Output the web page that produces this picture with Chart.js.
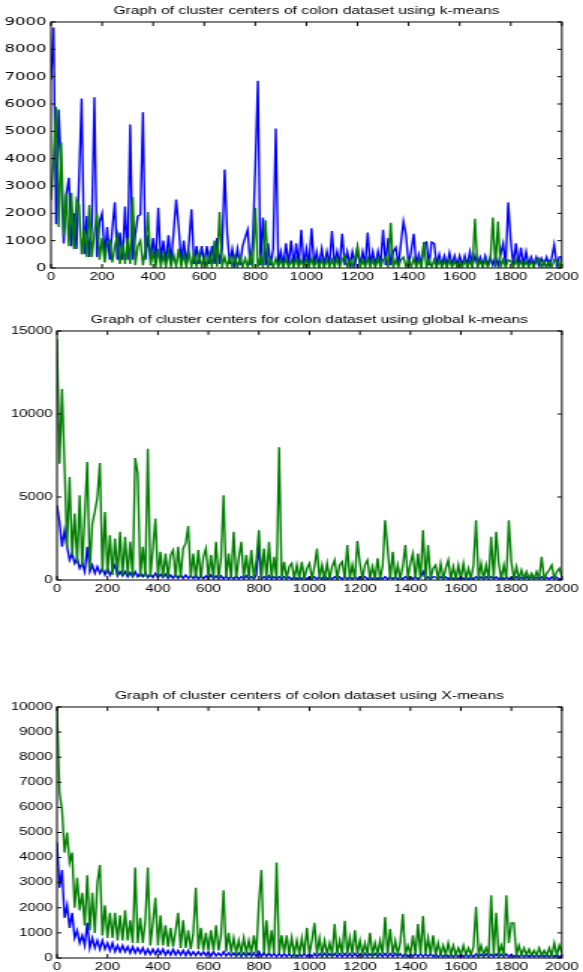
<!DOCTYPE html>
<html>
<head>
<meta charset="utf-8">
<script src="https://cdn.jsdelivr.net/npm/chart.js@4"></script>
<style>
    body { margin: 0; background: #fff; width: 583px; height: 972px; overflow: hidden; position: relative; }
    /* the source figure is stretched sideways, so each panel is drawn narrow and scaled in x */
    .panel { position: absolute; left: 0; width: 389px; transform: scaleX(1.4987); transform-origin: 0 0; }
</style>
</head>
<body>
<div class="panel" style="top:0px;height:290px"><canvas id="kmChart"></canvas></div>
<div class="panel" style="top:309px;height:293px"><canvas id="gkmChart"></canvas></div>
<div class="panel" style="top:685px;height:290px"><canvas id="xmChart"></canvas></div>

<script>
// sample index, one value read every 10 samples
var sampleIdx = Array.from({ length: 201 }, function (_, i) { return i * 10; });

// k-means
var kmBlue = [
    6900, 8800, 1600, 5800, 3600, 900, 2700, 3300, 800, 2000,
    700, 3300, 6200, 500, 1900, 400, 1600, 6250, 400, 1700,
    2000, 400, 1500, 300, 1400, 2400, 300, 1300, 300, 2250,
    300, 5250, 300, 1200, 1900, 1950, 5700, 300, 1200, 300,
    1100, 250, 2200, 250, 1000, 200, 1200, 200, 1300, 2500,
    1500, 200, 1000, 150, 900, 2150, 150, 800, 150, 800,
    150, 800, 150, 800, 150, 1100, 150, 700, 3600, 1250,
    150, 700, 100, 700, 100, 800, 1100, 1400, 100, 1000,
    3700, 6850, 100, 1850, 100, 900, 100, 700, 5100, 100,
    600, 100, 900, 100, 1000, 100, 900, 100, 1400, 100,
    700, 100, 1450, 100, 600, 100, 700, 100, 600, 100,
    1350, 100, 600, 100, 1250, 100, 600, 100, 600, 100,
    700, 100, 600, 100, 1300, 100, 600, 100, 600, 100,
    1400, 100, 1100, 100, 600, 750, 100, 900, 1700, 1200,
    100, 600, 1250, 100, 500, 100, 900, 950, 100, 950,
    900, 100, 500, 100, 450, 100, 550, 100, 450, 100,
    450, 100, 450, 100, 600, 100, 450, 100, 400, 100,
    450, 100, 400, 100, 400, 100, 500, 900, 100, 2400,
    1000, 100, 900, 100, 750, 100, 600, 100, 400, 100,
    400, 100, 350, 100, 400, 100, 350, 850, 100, 400,
    400
];
var kmGreen = [
    2500, 4000, 5900, 1500, 4600, 1200, 2700, 800, 2750, 700,
    2500, 2300, 500, 1400, 400, 2300, 400, 1300, 2000, 300,
    1100, 200, 900, 1000, 200, 800, 1200, 150, 900, 150,
    1100, 150, 2600, 100, 800, 1000, 100, 700, 2050, 100,
    600, 50, 700, 50, 500, 50, 600, 50, 500, 50,
    700, 50, 500, 50, 600, 50, 500, 50, 500, 50,
    400, 50, 500, 50, 1000, 50, 2050, 50, 400, 50,
    400, 30, 400, 30, 400, 30, 350, 30, 500, 30,
    2200, 30, 400, 30, 1750, 30, 300, 30, 350, 30,
    300, 30, 350, 30, 300, 30, 350, 30, 300, 30,
    300, 30, 350, 30, 300, 30, 300, 30, 350, 30,
    300, 30, 350, 30, 300, 450, 30, 300, 30, 350,
    800, 30, 300, 30, 350, 30, 300, 30, 350, 30,
    300, 400, 30, 1650, 30, 300, 30, 300, 400, 30,
    300, 30, 350, 30, 300, 30, 950, 30, 300, 30,
    300, 30, 300, 30, 250, 30, 300, 30, 250, 30,
    250, 30, 300, 30, 250, 30, 1800, 30, 250, 30,
    300, 30, 250, 1850, 30, 1700, 30, 300, 30, 300,
    250, 30, 300, 30, 250, 30, 250, 30, 250, 30,
    250, 350, 30, 250, 30, 250, 30, 300, 250, 30,
    400
];

// global k-means
var gkmBlue = [
    4500, 3500, 2000, 3000, 2000, 1200, 1600, 1000, 1300, 700,
    1000, 500, 2000, 500, 900, 400, 800, 400, 700, 300,
    700, 300, 600, 900, 250, 500, 250, 500, 200, 450,
    200, 500, 200, 400, 200, 450, 150, 350, 150, 400,
    150, 350, 150, 350, 100, 300, 100, 350, 100, 300,
    100, 300, 100, 250, 100, 300, 80, 250, 80, 250,
    80, 300, 80, 250, 60, 250, 60, 250, 60, 200,
    60, 250, 60, 200, 60, 250, 60, 200, 60, 300,
    2200, 60, 200, 50, 250, 50, 200, 50, 200, 50,
    200, 50, 180, 50, 200, 50, 180, 50, 200, 50,
    180, 50, 200, 50, 180, 50, 300, 50, 180, 50,
    200, 50, 180, 50, 200, 50, 180, 50, 200, 50,
    180, 50, 200, 50, 180, 50, 200, 50, 180, 50,
    200, 50, 180, 50, 200, 50, 180, 50, 200, 50,
    180, 50, 200, 50, 180, 500, 50, 180, 50, 200,
    180, 50, 200, 50, 180, 50, 200, 50, 180, 50,
    180, 50, 200, 50, 180, 50, 200, 50, 180, 50,
    180, 50, 200, 50, 180, 50, 200, 50, 180, 50,
    160, 50, 180, 50, 160, 50, 180, 50, 160, 50,
    160, 50, 180, 50, 160, 50, 180, 50, 160, 50,
    100
];
var gkmGreen = [
    14500, 7000, 11500, 6900, 2000, 6200, 1500, 4000, 1000, 5100,
    800, 3900, 7100, 600, 3400, 4100, 5000, 7050, 500, 4100,
    400, 2700, 300, 2500, 300, 2900, 300, 2600, 300, 2300,
    200, 7350, 6400, 200, 2000, 200, 7900, 200, 1900, 3700,
    200, 1700, 200, 1600, 150, 1500, 1800, 150, 2000, 150,
    1900, 2200, 3250, 150, 1600, 100, 1800, 100, 1400, 1900,
    100, 1500, 100, 2300, 100, 1300, 5100, 100, 1600, 100,
    2900, 100, 1300, 2300, 100, 1500, 100, 1800, 100, 1200,
    3000, 100, 1900, 100, 2300, 100, 1400, 100, 8000, 100,
    1100, 80, 800, 1000, 80, 900, 80, 1100, 80, 700,
    1000, 80, 800, 1900, 80, 900, 80, 1000, 80, 800,
    1200, 80, 900, 1100, 80, 2100, 80, 900, 80, 2350,
    1000, 80, 900, 1200, 80, 800, 80, 1300, 80, 800,
    3600, 1900, 80, 1700, 80, 900, 80, 800, 2100, 80,
    1000, 1600, 80, 1600, 80, 3000, 80, 2100, 80, 700,
    900, 60, 1000, 60, 700, 1200, 60, 800, 60, 900,
    60, 1000, 60, 700, 60, 900, 3600, 60, 1000, 60,
    900, 60, 2600, 60, 2900, 1000, 60, 900, 60, 3600,
    1100, 60, 800, 60, 600, 60, 500, 60, 400, 60,
    500, 60, 1400, 60, 400, 600, 900, 60, 500, 700,
    200
];

// X-means
var xmBlue = [
    4600, 2800, 3500, 1600, 2100, 1200, 1800, 800, 1100, 600,
    900, 500, 1400, 400, 800, 400, 700, 350, 700, 350,
    600, 300, 600, 250, 500, 250, 500, 250, 450, 200,
    450, 200, 400, 200, 400, 150, 350, 150, 350, 150,
    350, 150, 350, 120, 300, 120, 350, 120, 300, 120,
    300, 100, 300, 100, 250, 100, 250, 100, 250, 100,
    250, 80, 250, 80, 200, 80, 250, 80, 200, 80,
    200, 60, 200, 60, 200, 60, 200, 60, 200, 60,
    250, 60, 200, 60, 200, 60, 180, 50, 180, 50,
    180, 50, 170, 50, 180, 50, 170, 50, 180, 50,
    170, 50, 180, 50, 170, 50, 180, 50, 170, 50,
    180, 50, 170, 50, 180, 50, 170, 50, 180, 50,
    170, 50, 180, 50, 170, 50, 180, 50, 170, 50,
    180, 50, 170, 50, 180, 50, 170, 50, 180, 50,
    170, 50, 180, 50, 170, 50, 160, 50, 170, 50,
    160, 40, 150, 40, 160, 40, 150, 40, 160, 40,
    150, 40, 160, 40, 150, 40, 160, 40, 150, 40,
    160, 40, 150, 40, 160, 40, 150, 40, 160, 40,
    150, 40, 140, 40, 150, 40, 140, 40, 150, 40,
    140, 40, 150, 40, 140, 40, 150, 40, 140, 40,
    100
];
var xmGreen = [
    10000, 6600, 5900, 4200, 5000, 3800, 4200, 2000, 3200, 1900,
    2600, 1300, 3300, 1100, 2600, 1000, 3000, 3700, 900, 2100,
    800, 1800, 800, 1800, 700, 1700, 700, 1900, 700, 1500,
    600, 3600, 600, 1600, 600, 1500, 3600, 500, 1400, 2400,
    500, 1700, 500, 1300, 450, 1200, 450, 1100, 1800, 400,
    1500, 400, 1100, 350, 1000, 2800, 350, 1200, 300, 1000,
    300, 1100, 300, 1300, 300, 900, 2700, 250, 1000, 250,
    800, 200, 700, 200, 800, 200, 700, 200, 900, 200,
    2200, 3500, 200, 1500, 200, 1100, 200, 3800, 200, 900,
    200, 900, 150, 800, 150, 700, 150, 800, 150, 1200,
    150, 700, 1400, 150, 800, 150, 700, 150, 600, 150,
    1350, 150, 700, 150, 1480, 150, 800, 150, 1100, 150,
    700, 150, 600, 150, 1000, 150, 600, 150, 700, 150,
    1630, 150, 1150, 150, 700, 150, 600, 1750, 150, 500,
    150, 900, 150, 1350, 150, 1670, 150, 800, 150, 900,
    120, 600, 120, 500, 120, 600, 120, 500, 120, 400,
    120, 500, 120, 400, 120, 450, 2040, 120, 500, 120,
    400, 120, 2500, 120, 1800, 120, 500, 120, 2500, 600,
    1400, 1400, 120, 500, 120, 400, 120, 350, 100, 300,
    100, 400, 100, 300, 100, 400, 100, 600, 100, 500,
    200
];

var sans = 'Liberation Sans, Arial, sans-serif';

// MATLAB style box with inward ticks on all four sides
var boxPlugin = {
    id: 'matlabBox',
    afterDraw: function (chart) {
        var ctx = chart.ctx, a = chart.chartArea;
        var xs = chart.scales.x, ys = chart.scales.y;
        ctx.save();
        ctx.strokeStyle = '#000';
        ctx.lineWidth = 1;
        ctx.strokeRect(a.left, a.top, a.right - a.left, a.bottom - a.top);
        ctx.beginPath();
        xs.ticks.forEach(function (t) {
            var px = xs.getPixelForValue(t.value);
            ctx.moveTo(px, a.bottom); ctx.lineTo(px, a.bottom - 4);
            ctx.moveTo(px, a.top); ctx.lineTo(px, a.top + 4);
        });
        ys.ticks.forEach(function (t) {
            var py = ys.getPixelForValue(t.value);
            ctx.moveTo(a.left, py); ctx.lineTo(a.left + 3, py);
            ctx.moveTo(a.right, py); ctx.lineTo(a.right - 3, py);
        });
        ctx.stroke();
        ctx.restore();
    }
};

function points(vals) {
    return vals.map(function (v, i) { return { x: sampleIdx[i], y: v }; });
}

function plain(v) { return String(v); }

function series(vals, colour) {
    return { data: points(vals), borderColor: colour, borderWidth: 1.4, pointRadius: 0, fill: false, tension: 0 };
}

function makeChart(id, title, blue, green, yMax, yStep, yWidth, xHeight, padRight, yFont) {
    return new Chart(document.getElementById(id), {
        type: 'line',
        data: {
            datasets: [series(green, '#007f00'), series(blue, '#0000ff')]
        },
        options: {
            animation: false,
            responsive: true,
            maintainAspectRatio: false,
            events: [],
            layout: { padding: { left: 0, right: padRight, top: 0, bottom: 0 } },
            plugins: {
                legend: { display: false },
                tooltip: { enabled: false },
                title: {
                    display: true,
                    text: title,
                    fullSize: false,
                    color: '#000',
                    font: { family: sans, size: 10.4, weight: 'normal' },
                    padding: { top: 5, bottom: 4.5 }
                }
            },
            scales: {
                x: {
                    type: 'linear',
                    min: 0,
                    max: 2000,
                    grid: { display: false, drawTicks: false },
                    border: { display: false },
                    ticks: { stepSize: 200, color: '#000', font: { family: sans, size: 10 }, padding: 3, maxRotation: 0, autoSkip: false, callback: plain },
                    afterFit: function (s) { s.height = xHeight; }
                },
                y: {
                    min: 0,
                    max: yMax,
                    grid: { display: false, drawTicks: false },
                    border: { display: false },
                    ticks: { stepSize: yStep, color: '#000', font: yFont, padding: 3, autoSkip: false, callback: plain },
                    afterFit: function (s) { s.width = yWidth; }
                }
            }
        },
        plugins: [boxPlugin]
    });
}

makeChart('kmChart', 'Graph of cluster centers of colon dataset using k-means',
    kmBlue, kmGreen, 9000, 1000, 34, 22, 10.7, { family: 'DejaVu Sans, sans-serif', size: 11 });
makeChart('gkmChart', 'Graph of cluster centers for colon dataset using global k-means',
    gkmBlue, gkmGreen, 15000, 5000, 38, 22, 12, { family: sans, size: 10 });
makeChart('xmChart', 'Graph of cluster centers of colon dataset using X-means',
    xmBlue, xmGreen, 10000, 1000, 38, 17, 10.7, { family: sans, size: 10 });
</script>
</body>
</html>
